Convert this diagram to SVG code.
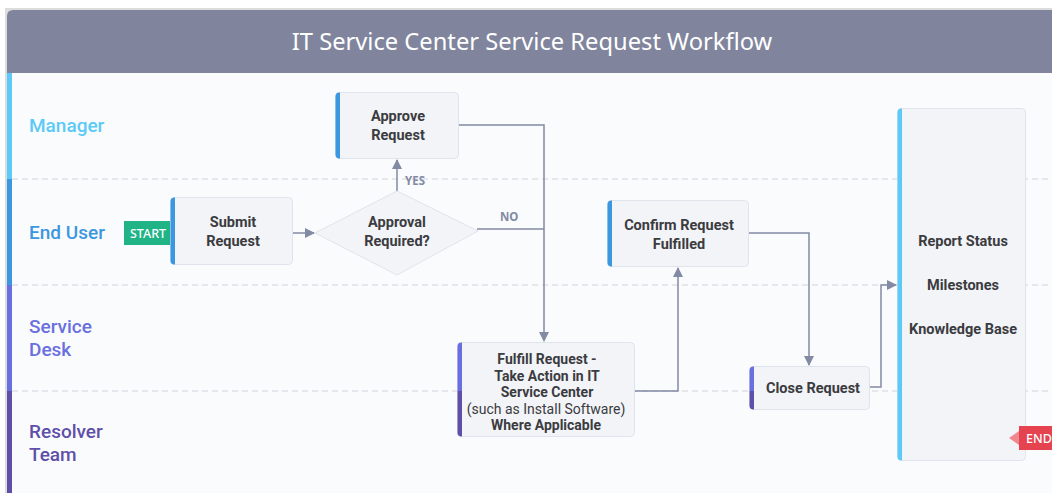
<svg xmlns="http://www.w3.org/2000/svg" width="1052" height="493" viewBox="0 0 1052 493">
  <style>
    .lane-label { font-family: Roboto, "Noto Sans", "Liberation Sans", sans-serif; font-size: 19px; font-weight: 500; }
    .node-box { fill: #f2f4f8; stroke: #dfe4ec; stroke-width: 1; }
    .node-text { font-family: Roboto, "Noto Sans", "Liberation Sans", sans-serif; font-size: 14.5px; font-weight: 700; fill: #3b3b40; text-anchor: middle; }
    .node-text-small { font-size: 14px; }
    .node-text-light { font-weight: 400; }
    .lane-divider { stroke: #cfd3de; stroke-width: 1.2; stroke-dasharray: 6 4; }
    .edge { fill: none; stroke: #838aa3; stroke-width: 1.5; }
    .edge-label { font-family: "Noto Sans", "Liberation Sans", sans-serif; font-size: 11.5px; font-weight: 700; fill: #838aa3; }
    .tag-text { font-family: "Noto Sans", "Liberation Sans", sans-serif; font-size: 12.5px; font-weight: 500; fill: #ffffff; }
  </style>
  <defs>
    <marker id="arrow" viewBox="0 0 10 10" refX="9" refY="5" markerWidth="10" markerHeight="10" markerUnits="userSpaceOnUse" orient="auto">
      <path d="M0,0 L10,5 L0,10 z" fill="#838aa3"/>
    </marker>
    <clipPath id="frame-clip">
      <path d="M7,16 Q7,10 13,10 L1052,10 L1052,493 L7,493 z"/>
    </clipPath>
  </defs>

  <!-- page and frame -->
  <rect x="0" y="0" width="1052" height="493" fill="#ffffff"/>
  <rect x="5" y="8" width="1047" height="485" fill="#dcdcdc"/>
  <g clip-path="url(#frame-clip)">
    <rect x="7" y="10" width="1045" height="483" fill="#fafbfd"/>
    <rect x="7" y="10" width="1045" height="63" fill="#80859d"/>
    <!-- lane colour stripes -->
    <rect x="7" y="73" width="5" height="106" fill="#5ccaf7"/>
    <rect x="7" y="179" width="5" height="106" fill="#3c97e1"/>
    <rect x="7" y="285" width="5" height="106" fill="#6a6fe0"/>
    <rect x="7" y="391" width="5" height="102" fill="#5f4fa9"/>
  </g>
  <text x="532" y="50" text-anchor="middle" font-family="Noto Sans, Liberation Sans, sans-serif" font-size="23.7" fill="#ffffff">IT Service Center Service Request Workflow</text>

  <!-- lanes -->
  <g id="lanes">
    <line class="lane-divider" x1="12" y1="179" x2="1052" y2="179"/>
    <line class="lane-divider" x1="12" y1="285" x2="1052" y2="285"/>
    <line class="lane-divider" x1="12" y1="391" x2="1052" y2="391"/>
    <text class="lane-label" x="29" y="132" fill="#5ccaf7">Manager</text>
    <text class="lane-label" x="29" y="239" fill="#3c97e1">End User</text>
    <text class="lane-label" x="29" y="333" fill="#6a6fe0">Service</text>
    <text class="lane-label" x="29" y="356" fill="#6a6fe0">Desk</text>
    <text class="lane-label" x="29" y="438" fill="#5f4fa9">Resolver</text>
    <text class="lane-label" x="29" y="461" fill="#5f4fa9">Team</text>
  </g>

  <!-- connectors -->
  <g id="connectors">
    <path class="edge" d="M293,233 L314,233" marker-end="url(#arrow)"/>
    <path class="edge" d="M397,192 L397,160" marker-end="url(#arrow)"/>
    <text class="edge-label" x="405" y="185">YES</text>
    <path class="edge" d="M459,125 L544,125 L544,341" marker-end="url(#arrow)"/>
    <path class="edge" d="M477,229 L544,229"/>
    <text class="edge-label" x="500" y="221">NO</text>
    <path class="edge" d="M635,391 L678,391 L678,268" marker-end="url(#arrow)"/>
    <path class="edge" d="M749,233 L809,233 L809,365" marker-end="url(#arrow)"/>
    <path class="edge" d="M870,387 L881,387 L881,285 L896,285" marker-end="url(#arrow)"/>
  </g>

  <!-- start tag -->
  <g id="start">
    <rect x="124" y="221" width="48" height="24" fill="#1fb386"/>
    <path d="M172,227 L179,233 L172,239 z" fill="#5fd6ad"/>
    <text class="tag-text" x="148" y="237.5" text-anchor="middle">START</text>
  </g>

  <g id="approve-request">
    <rect class="node-box" x="335.5" y="92.5" width="123" height="66" rx="4"/>
    <path d="M340,92.5 L340,158.5 L339.5,158.5 Q335.5,158.5 335.5,154.5 L335.5,96.5 Q335.5,92.5 339.5,92.5 z" fill="#3c97e1"/>
    <text class="node-text" x="398" y="121">Approve</text>
    <text class="node-text" x="398" y="140">Request</text>
  </g>

  <g id="submit-request">
    <rect class="node-box" x="170.5" y="197.5" width="122" height="67" rx="4"/>
    <path d="M175,197.5 L175,264.5 L174.5,264.5 Q170.5,264.5 170.5,260.5 L170.5,201.5 Q170.5,197.5 174.5,197.5 z" fill="#3c97e1"/>
    <text class="node-text" x="233" y="227">Submit</text>
    <text class="node-text" x="233" y="246">Request</text>
  </g>

  <g id="approval-required">
    <path d="M397,191 L478,231 L397,275 L315,233 z" fill="#f2f4f8" stroke="#dfe4ec" stroke-width="1"/>
    <text class="node-text" x="397" y="227">Approval</text>
    <text class="node-text" x="397" y="246">Required?</text>
  </g>

  <g id="confirm-request">
    <rect class="node-box" x="607.5" y="200.5" width="141" height="66" rx="4"/>
    <path d="M612,200.5 L612,266.5 L611.5,266.5 Q607.5,266.5 607.5,262.5 L607.5,204.5 Q607.5,200.5 611.5,200.5 z" fill="#3c97e1"/>
    <text class="node-text" x="679" y="230">Confirm Request</text>
    <text class="node-text" x="679" y="249">Fulfilled</text>
  </g>

  <g id="fulfill-request">
    <rect class="node-box" x="457.5" y="342.5" width="177" height="94" rx="4"/>
    <path d="M462,342.5 L462,391 L457.5,391 L457.5,346.5 Q457.5,342.5 461.5,342.5 z" fill="#6a6fe0"/>
    <path d="M462,391 L462,436.5 L461.5,436.5 Q457.5,436.5 457.5,432.5 L457.5,391 z" fill="#5f4fa9"/>
    <text class="node-text node-text-small" x="547" y="364">Fulfill Request -</text>
    <text class="node-text node-text-small" x="547" y="380.5">Take Action in IT</text>
    <text class="node-text node-text-small" x="547" y="397">Service Center</text>
    <text class="node-text node-text-small node-text-light" x="546" y="413.5">(such as Install Software)</text>
    <text class="node-text node-text-small" x="546" y="430">Where Applicable</text>
  </g>

  <g id="close-request">
    <rect class="node-box" x="749.5" y="366.5" width="120" height="43" rx="4"/>
    <path d="M754,366.5 L754,391 L749.5,391 L749.5,370.5 Q749.5,366.5 753.5,366.5 z" fill="#6a6fe0"/>
    <path d="M754,391 L754,409.5 L753.5,409.5 Q749.5,409.5 749.5,405.5 L749.5,391 z" fill="#5f4fa9"/>
    <text class="node-text" x="813" y="392.5">Close Request</text>
  </g>

  <g id="report-status">
    <rect class="node-box" x="897.5" y="108.5" width="128" height="352" rx="4"/>
    <path d="M902,108.5 L902,460.5 L901.5,460.5 Q897.5,460.5 897.5,456.5 L897.5,112.5 Q897.5,108.5 901.5,108.5 z" fill="#5ccaf7"/>
    <text class="node-text" x="963" y="246">Report Status</text>
    <text class="node-text" x="963" y="290">Milestones</text>
    <text class="node-text" x="963" y="334">Knowledge Base</text>
  </g>

  <!-- end tag -->
  <g id="end">
    <path d="M1019,431 L1009,438 L1019,445 z" fill="#f0868e"/>
    <rect x="1019" y="426" width="40" height="24" fill="#e4434f"/>
    <text class="tag-text" x="1026" y="442.5">END</text>
  </g>
</svg>
